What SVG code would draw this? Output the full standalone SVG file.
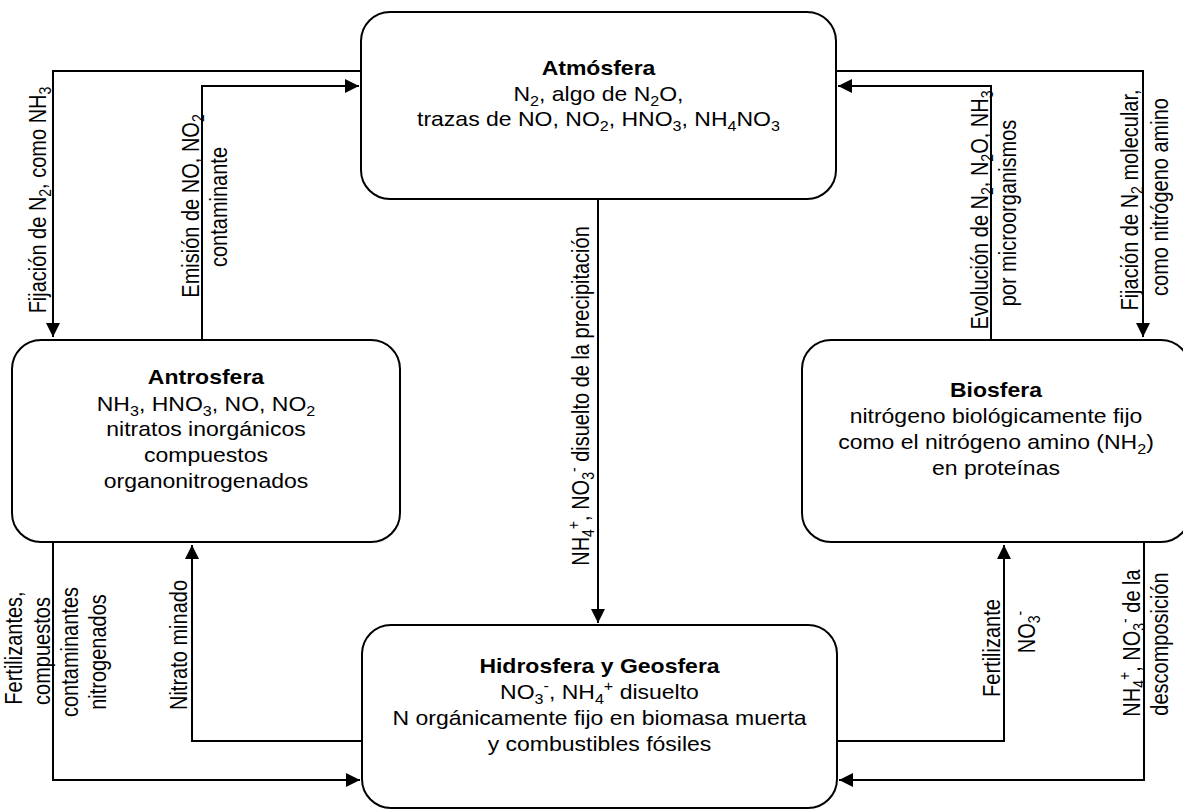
<svg xmlns="http://www.w3.org/2000/svg" width="1183" height="810" viewBox="0 0 1183 810">
  <style>
    .n { fill: #fff; stroke: #000; stroke-width: 2; }
    .c { fill: none; stroke: #000; stroke-width: 2; marker-end: url(#ah); }
    .t { font-family: "Liberation Sans", Arial, Helvetica, sans-serif; font-size: 20px; fill: #000; text-anchor: middle; }
    .b { font-weight: bold; }
    .sub { font-size: 14px; baseline-shift: -5px; }
    .sup { font-size: 14px; baseline-shift: 8px; }
  </style>
  <defs>
    <marker id="ah" markerUnits="userSpaceOnUse" markerWidth="14" markerHeight="14" viewBox="0 0 14 14" refX="14" refY="7" orient="auto">
      <path d="M0,0 L14,7 L0,14 z" fill="#000"/>
    </marker>
  </defs>

  <rect width="1183" height="810" fill="#fff"/>

  <!-- connectors -->
  <g id="connectors">
    <path class="c" d="M361,71 H53 V337"/>
    <path class="c" d="M202,340 V86 H359"/>
    <path class="c" d="M836,71 H1143 V337"/>
    <path class="c" d="M991,340 V86 H838"/>
    <path class="c" d="M598,199 V623"/>
    <path class="c" d="M53,542 V780 H360"/>
    <path class="c" d="M362,741 H192 V545"/>
    <path class="c" d="M837,741 H1004 V545"/>
    <path class="c" d="M1144,542 V780 H839"/>
  </g>

  <!-- connector labels (vertical) -->
  <g id="labels" class="t">
    <text transform="translate(46,200) scale(1.15,1) rotate(-90)">Fijación de N<tspan class="sub">2</tspan>, como NH<tspan class="sub">3</tspan></text>

    <text transform="translate(199,206) scale(1.15,1) rotate(-90)">Emisión de NO, NO<tspan class="sub">2</tspan></text>
    <text transform="translate(227,207) scale(1.15,1) rotate(-90)">contaminante</text>

    <text transform="translate(988,210) scale(1.15,1) rotate(-90)">Evolución de N<tspan class="sub">2</tspan>, N<tspan class="sub">2</tspan>O, NH<tspan class="sub">3</tspan></text>
    <text transform="translate(1016,213) scale(1.15,1) rotate(-90)">por microorganismos</text>

    <text transform="translate(1138,200) scale(1.15,1) rotate(-90)">Fijación de N<tspan class="sub">2</tspan> molecular,</text>
    <text transform="translate(1168,197) scale(1.15,1) rotate(-90)">como nitrógeno amino</text>

    <text transform="translate(589,396) scale(1.15,1) rotate(-90)">NH<tspan class="sub">4</tspan><tspan class="sup">+</tspan>, NO<tspan class="sub">3</tspan><tspan class="sup">-</tspan> disuelto de la precipitación</text>

    <text transform="translate(22,648) scale(1.15,1) rotate(-90)">Fertilizantes,</text>
    <text transform="translate(50,651) scale(1.15,1) rotate(-90)">compuestos</text>
    <text transform="translate(78,652) scale(1.15,1) rotate(-90)">contaminantes</text>
    <text transform="translate(106,652) scale(1.15,1) rotate(-90)">nitrogenados</text>

    <text transform="translate(187,645) scale(1.15,1) rotate(-90)">Nitrato minado</text>

    <text transform="translate(1000,648) scale(1.15,1) rotate(-90)">Fertilizante</text>
    <text transform="translate(1035,632) scale(1.15,1) rotate(-90)">NO<tspan class="sub">3</tspan><tspan class="sup">-</tspan></text>

    <text transform="translate(1140,643) scale(1.15,1) rotate(-90)">NH<tspan class="sub">4</tspan><tspan class="sup">+</tspan>, NO<tspan class="sub">3</tspan><tspan class="sup">-</tspan> de la</text>
    <text transform="translate(1168,644) scale(1.15,1) rotate(-90)">descomposición</text>
  </g>

  <!-- Atmósfera -->
  <g id="atmosfera">
    <rect class="n" x="361" y="12" width="475" height="187" rx="29" ry="29"/>
    <g class="t" transform="translate(598.5,0) scale(1.15,1)">
      <text class="b" x="0" y="75">Atmósfera</text>
      <text x="0" y="101">N<tspan class="sub">2</tspan>, algo de N<tspan class="sub">2</tspan>O,</text>
      <text x="0" y="126">trazas de NO, NO<tspan class="sub">2</tspan>, HNO<tspan class="sub">3</tspan>, NH<tspan class="sub">4</tspan>NO<tspan class="sub">3</tspan></text>
    </g>
  </g>

  <!-- Antrosfera -->
  <g id="antrosfera">
    <rect class="n" x="12" y="340" width="388" height="202" rx="29" ry="29"/>
    <g class="t" transform="translate(206,0) scale(1.15,1)">
      <text class="b" x="0" y="384">Antrosfera</text>
      <text x="0" y="411">NH<tspan class="sub">3</tspan>, HNO<tspan class="sub">3</tspan>, NO, NO<tspan class="sub">2</tspan></text>
      <text x="0" y="436">nitratos inorgánicos</text>
      <text x="0" y="462">compuestos</text>
      <text x="0" y="488">organonitrogenados</text>
    </g>
  </g>

  <!-- Biosfera -->
  <g id="biosfera">
    <rect class="n" x="802" y="340" width="388" height="202" rx="29" ry="29"/>
    <g class="t" transform="translate(996,0) scale(1.15,1)">
      <text class="b" x="0" y="397">Biosfera</text>
      <text x="0" y="423">nitrógeno biológicamente fijo</text>
      <text x="0" y="449">como el nitrógeno amino (NH<tspan class="sub">2</tspan>)</text>
      <text x="0" y="475">en proteínas</text>
    </g>
  </g>

  <!-- Hidrosfera y Geosfera -->
  <g id="hidrosfera">
    <rect class="n" x="362" y="625" width="475" height="183" rx="29" ry="29"/>
    <g class="t" transform="translate(599.5,0) scale(1.15,1)">
      <text class="b" x="0" y="673">Hidrosfera y Geosfera</text>
      <text x="0" y="699">NO<tspan class="sub">3</tspan><tspan class="sup">-</tspan>, NH<tspan class="sub">4</tspan><tspan class="sup">+</tspan> disuelto</text>
      <text x="0" y="725">N orgánicamente fijo en biomasa muerta</text>
      <text x="0" y="751">y combustibles fósiles</text>
    </g>
  </g>
</svg>
